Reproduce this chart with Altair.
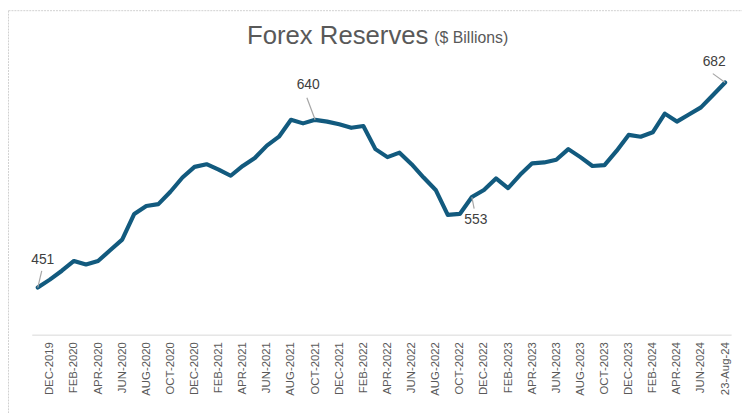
import altair as alt
import pandas as pd

# ---------------- data ----------------
# month-end forex reserves, Nov-2019 ... Jul-2024, then 23-Aug-24 ($ bn)
MONTH_IDX = list(range(58))
RESERVES = [451, 460, 470, 481, 477, 481, 493, 505, 534, 543,
            545, 559, 575, 587, 590, 584, 577, 588, 597, 611,
            621, 640, 636, 640, 638, 635, 631, 633, 607, 598,
            603, 590, 575, 561, 533, 534, 553, 561, 574, 563,
            578, 591, 592, 595, 607, 598, 588, 589, 605, 623,
            621, 626, 647, 638, 646, 654, 668, 682]

X_TICK_IDX = list(range(1, 58, 2))
X_LABELS = ["DEC-2019", "FEB-2020", "APR-2020", "JUN-2020", "AUG-2020", "OCT-2020",
            "DEC-2020", "FEB-2021", "APR-2021", "JUN-2021", "AUG-2021", "OCT-2021",
            "DEC-2021", "FEB-2022", "APR-2022", "JUN-2022", "AUG-2022", "OCT-2022",
            "DEC-2022", "FEB-2023", "APR-2023", "JUN-2023", "AUG-2023", "OCT-2023",
            "DEC-2023", "FEB-2024", "APR-2024", "JUN-2024", "23-Aug-24"]

ANNOT_IDX = [0, 23, 36, 57]

TITLE = "Forex Reserves"
SUBTITLE = "($ Billions)"

# ---------------- style ----------------
W, H = 707, 271
LINE_COLOR = "#125a7e"
TEXT_COLOR = "#404040"
GRAY = "#595959"
LEADER = "#a6a6a6"
# (text dx, text dy, leader end dx, leader end dy) in px, per annotation
ANNOT_STYLE = {
    0: (5, -28, 4, -17),
    23: (-7, -35, -8.3, -22.3),
    36: (4, 23, 2.3, 11.6),
    57: (-11, -21, -12.4, -9),
}

df = pd.DataFrame({"idx": MONTH_IDX, "value": RESERVES})

label_expr = "[" + ",".join("'%s'" % l for l in X_LABELS) + "][(datum.value-1)/2]"

x_enc = alt.X("idx:Q",
              scale=alt.Scale(domain=[-0.5, 57.5], nice=False, zero=False),
              axis=alt.Axis(values=X_TICK_IDX, labelExpr=label_expr, labelAngle=270,
                            labelAlign="right", labelBaseline="middle", ticks=False,
                            grid=False, domainColor="#d9d9d9", domainWidth=1,
                            labelColor=GRAY, labelFont="Liberation Sans", labelFontSize=11.5,
                            labelPadding=7, title=None, labelOverlap=False, labelFlush=False))
y_enc = alt.Y("value:Q", scale=alt.Scale(domain=[398, 700], nice=False, zero=False), axis=None)

base = alt.Chart(df)

layers = []
line = base.mark_line(color=LINE_COLOR, strokeWidth=4.2, strokeJoin="round",
                      strokeCap="round").encode(x=x_enc, y=y_enc)

# leaders
for i in ANNOT_IDX:
    tdx, tdy, ldx, ldy = ANNOT_STYLE[i]
    m = max(abs(ldx), abs(ldy))
    path = "M0,0L%.4f,%.4f" % (ldx / m, ldy / m)
    layers.append(
        base.transform_filter(alt.datum.idx == i)
        .mark_point(shape=path, size=(2 * m) ** 2, filled=False, stroke=LEADER,
                    strokeWidth=1.2, opacity=1)
        .encode(x=x_enc, y=y_enc)
    )

layers.insert(0, line)

for i in ANNOT_IDX:
    tdx, tdy, ldx, ldy = ANNOT_STYLE[i]
    layers.append(
        base.transform_filter(alt.datum.idx == i)
        .mark_text(dx=tdx, dy=tdy, font="Liberation Sans", fontSize=14, color=TEXT_COLOR,
                   align="center", baseline="middle")
        .encode(x=x_enc, y=y_enc, text=alt.Text("value:Q", format="d"))
    )

title1 = alt.Chart(pd.DataFrame({"t": [TITLE]})).mark_text(
    font="Liberation Sans", fontSize=26, color=GRAY, align="right", baseline="alphabetic"
).encode(text="t:N", x=alt.value(401), y=alt.value(-23))
title2 = alt.Chart(pd.DataFrame({"t": [SUBTITLE]})).mark_text(
    font="Liberation Sans", fontSize=16, color=GRAY, align="left", baseline="alphabetic"
).encode(text="t:N", x=alt.value(407), y=alt.value(-24))

border_l = alt.Chart(pd.DataFrame({"t": [0]})).mark_rule(
    color="#d0d0d0", strokeWidth=1, strokeDash=[2, 1]
).encode(x=alt.value(-23.5), y=alt.value(-56.5), y2=alt.value(H + 80))
border_t = alt.Chart(pd.DataFrame({"t": [0]})).mark_rule(
    color="#d0d0d0", strokeWidth=1, strokeDash=[2, 1]
).encode(x=alt.value(-23.5), x2=alt.value(W + 20), y=alt.value(-56.5))

chart = alt.layer(border_l, border_t, *layers, title1, title2).properties(
    width=W, height=H,
    autosize=alt.AutoSizeParams(type="none"),
    padding={"left": 24, "top": 57, "right": 11, "bottom": 77},
    background="white",
).configure_view(stroke=None)

chart.save("out.html", embed_options={"renderer": "svg", "actions": False})
